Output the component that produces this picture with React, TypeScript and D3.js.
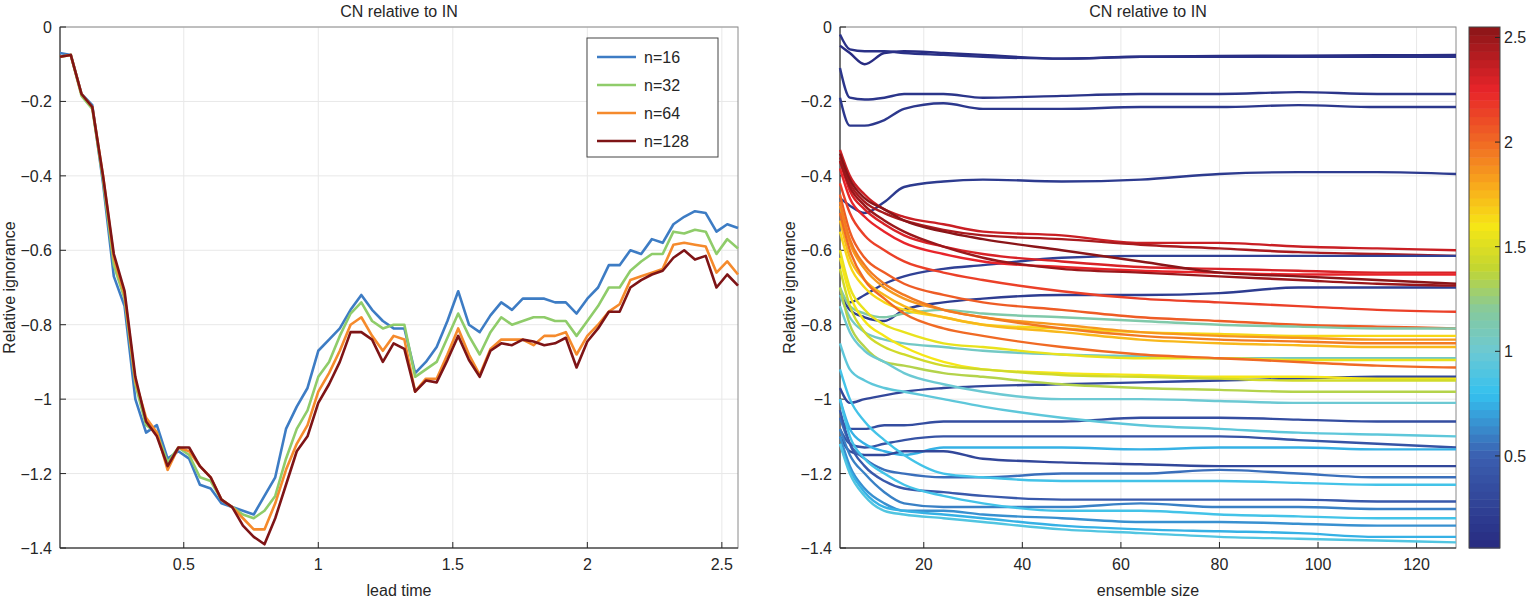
import * as d3 from 'd3';

const leadTime = d3.range(64).map(i => +(0.04 * (i + 1)).toFixed(2));

const n16 = [-0.07,-0.075,-0.18,-0.21,-0.42,-0.67,-0.75,-1.0,-1.09,-1.07,-1.16,-1.14,-1.16,-1.23,-1.24,-1.28,-1.29,-1.3,-1.31,-1.26,-1.21,-1.08,-1.02,-0.97,-0.87,-0.84,-0.81,-0.76,-0.72,-0.76,-0.79,-0.81,
  -0.81,-0.93,-0.9,-0.86,-0.79,-0.71,-0.8,-0.82,-0.775,-0.74,-0.76,-0.73,-0.73,-0.73,-0.74,-0.74,-0.77,-0.73,-0.7,-0.64,-0.64,-0.6,-0.61,-0.57,-0.58,-0.53,-0.51,-0.495,-0.5,-0.55,-0.53,-0.54];
const n32 = [-0.08,-0.075,-0.185,-0.22,-0.41,-0.64,-0.73,-0.96,-1.07,-1.09,-1.17,-1.13,-1.15,-1.21,-1.22,-1.27,-1.29,-1.31,-1.32,-1.3,-1.26,-1.16,-1.08,-1.03,-0.94,-0.9,-0.83,-0.77,-0.74,-0.79,-0.81,-0.8,
  -0.8,-0.94,-0.92,-0.9,-0.835,-0.77,-0.83,-0.88,-0.82,-0.78,-0.8,-0.79,-0.78,-0.78,-0.79,-0.79,-0.83,-0.79,-0.75,-0.7,-0.7,-0.655,-0.63,-0.61,-0.61,-0.55,-0.555,-0.545,-0.55,-0.61,-0.57,-0.595];
const n64 = [-0.08,-0.075,-0.18,-0.215,-0.4,-0.62,-0.72,-0.95,-1.05,-1.09,-1.19,-1.13,-1.14,-1.18,-1.21,-1.27,-1.29,-1.32,-1.35,-1.35,-1.28,-1.19,-1.12,-1.07,-0.98,-0.93,-0.87,-0.8,-0.78,-0.83,-0.87,-0.83,
  -0.84,-0.98,-0.945,-0.945,-0.88,-0.81,-0.88,-0.935,-0.865,-0.84,-0.84,-0.84,-0.855,-0.83,-0.83,-0.82,-0.88,-0.83,-0.8,-0.765,-0.745,-0.68,-0.67,-0.66,-0.65,-0.585,-0.58,-0.585,-0.59,-0.66,-0.63,-0.665];
const n128 = [-0.08,-0.075,-0.18,-0.215,-0.4,-0.61,-0.71,-0.94,-1.06,-1.1,-1.18,-1.13,-1.13,-1.18,-1.21,-1.27,-1.29,-1.34,-1.37,-1.39,-1.32,-1.23,-1.14,-1.1,-1.01,-0.96,-0.9,-0.82,-0.82,-0.84,-0.9,-0.85,
  -0.865,-0.98,-0.95,-0.955,-0.895,-0.83,-0.895,-0.94,-0.87,-0.85,-0.855,-0.84,-0.845,-0.855,-0.85,-0.835,-0.915,-0.845,-0.81,-0.765,-0.765,-0.7,-0.68,-0.665,-0.655,-0.62,-0.6,-0.625,-0.615,-0.7,-0.665,-0.695];

const seriesNames = ['n=16', 'n=32', 'n=64', 'n=128'];
const seriesColors = ['#3d7cc4', '#8fcc6a', '#f58a2c', '#7e1416'];
const seriesValues = [n16, n32, n64, n128];

// ensemble sizes at which each curve was read
const ensembleSizes = [3, 5, 8, 12, 16, 24, 32, 48, 64, 80, 96, 112, 128];
const curveLevels = [0.08,0.12,0.15,0.18,0.2,2.35,2.45,0.25,2.3,2.25,2.55,0.22,2.5,2.15,2.05,1.15,1.65,1.85,1.95,1.75,1.05,1.55,2.0,0.3,1.6,1.45,1.35,1.0,0.35,0.95,0.4,0.75,0.3,0.55,0.85,0.45,0.6,0.85,0.65,0.75,0.9];
const curveValues = [
  [-0.05,-0.07,-0.1,-0.07,-0.065,-0.07,-0.075,-0.085,-0.08,-0.078,-0.077,-0.076,-0.075],
  [-0.02,-0.06,-0.065,-0.065,-0.07,-0.075,-0.08,-0.085,-0.08,-0.08,-0.08,-0.08,-0.08],
  [-0.11,-0.19,-0.195,-0.19,-0.18,-0.18,-0.19,-0.185,-0.18,-0.18,-0.175,-0.18,-0.18],
  [-0.19,-0.265,-0.265,-0.25,-0.22,-0.205,-0.22,-0.22,-0.215,-0.215,-0.21,-0.215,-0.215],
  [-0.46,-0.48,-0.5,-0.47,-0.43,-0.415,-0.41,-0.415,-0.41,-0.395,-0.39,-0.39,-0.395],
  [-0.33,-0.4,-0.45,-0.49,-0.51,-0.53,-0.55,-0.56,-0.58,-0.58,-0.59,-0.595,-0.6],
  [-0.35,-0.42,-0.47,-0.5,-0.52,-0.545,-0.56,-0.57,-0.585,-0.595,-0.605,-0.61,-0.615],
  [-0.72,-0.74,-0.72,-0.69,-0.67,-0.65,-0.64,-0.62,-0.615,-0.615,-0.615,-0.615,-0.615],
  [-0.36,-0.44,-0.49,-0.53,-0.56,-0.59,-0.61,-0.63,-0.645,-0.65,-0.655,-0.66,-0.66],
  [-0.38,-0.46,-0.51,-0.55,-0.58,-0.61,-0.63,-0.645,-0.655,-0.66,-0.665,-0.665,-0.665],
  [-0.34,-0.41,-0.46,-0.49,-0.52,-0.55,-0.57,-0.6,-0.63,-0.66,-0.67,-0.68,-0.69],
  [-0.72,-0.76,-0.78,-0.79,-0.76,-0.74,-0.73,-0.72,-0.72,-0.715,-0.7,-0.7,-0.7],
  [-0.36,-0.43,-0.48,-0.52,-0.55,-0.59,-0.62,-0.65,-0.66,-0.67,-0.68,-0.69,-0.695],
  [-0.42,-0.5,-0.56,-0.6,-0.63,-0.66,-0.68,-0.71,-0.73,-0.74,-0.75,-0.76,-0.765],
  [-0.45,-0.55,-0.62,-0.66,-0.69,-0.72,-0.74,-0.76,-0.78,-0.79,-0.8,-0.805,-0.81],
  [-0.7,-0.75,-0.77,-0.78,-0.77,-0.76,-0.77,-0.78,-0.79,-0.8,-0.805,-0.81,-0.81],
  [-0.55,-0.64,-0.7,-0.74,-0.76,-0.78,-0.8,-0.81,-0.82,-0.825,-0.83,-0.83,-0.83],
  [-0.48,-0.58,-0.65,-0.7,-0.73,-0.76,-0.78,-0.8,-0.82,-0.83,-0.835,-0.84,-0.84],
  [-0.47,-0.57,-0.64,-0.69,-0.72,-0.76,-0.78,-0.81,-0.83,-0.84,-0.845,-0.85,-0.85],
  [-0.52,-0.62,-0.68,-0.72,-0.75,-0.78,-0.8,-0.82,-0.84,-0.85,-0.855,-0.86,-0.86],
  [-0.72,-0.78,-0.82,-0.84,-0.85,-0.86,-0.87,-0.88,-0.885,-0.89,-0.89,-0.89,-0.89],
  [-0.6,-0.7,-0.76,-0.8,-0.82,-0.85,-0.86,-0.88,-0.89,-0.89,-0.895,-0.895,-0.895],
  [-0.5,-0.6,-0.68,-0.73,-0.77,-0.81,-0.83,-0.86,-0.88,-0.89,-0.9,-0.91,-0.915],
  [-0.97,-1.01,-1.0,-0.99,-0.98,-0.97,-0.965,-0.96,-0.955,-0.95,-0.945,-0.94,-0.94],
  [-0.62,-0.72,-0.79,-0.83,-0.86,-0.9,-0.92,-0.93,-0.935,-0.94,-0.94,-0.945,-0.945],
  [-0.65,-0.75,-0.82,-0.86,-0.88,-0.91,-0.92,-0.935,-0.94,-0.945,-0.95,-0.95,-0.95],
  [-0.7,-0.8,-0.86,-0.9,-0.91,-0.93,-0.94,-0.96,-0.97,-0.975,-0.98,-0.98,-0.98],
  [-0.75,-0.82,-0.87,-0.9,-0.93,-0.96,-0.98,-1.0,-1.0,-1.005,-1.01,-1.01,-1.01],
  [-1.05,-1.08,-1.08,-1.07,-1.07,-1.06,-1.06,-1.06,-1.05,-1.05,-1.055,-1.06,-1.06],
  [-0.85,-0.92,-0.95,-0.97,-0.98,-1.0,-1.02,-1.05,-1.07,-1.08,-1.09,-1.095,-1.1],
  [-1.08,-1.12,-1.13,-1.12,-1.11,-1.1,-1.1,-1.1,-1.1,-1.1,-1.11,-1.12,-1.13],
  [-1.0,-1.08,-1.12,-1.14,-1.15,-1.13,-1.13,-1.13,-1.135,-1.13,-1.13,-1.135,-1.135],
  [-1.1,-1.14,-1.15,-1.15,-1.14,-1.14,-1.16,-1.17,-1.175,-1.18,-1.18,-1.18,-1.18],
  [-1.05,-1.12,-1.16,-1.19,-1.2,-1.21,-1.21,-1.2,-1.2,-1.19,-1.2,-1.21,-1.21],
  [-0.92,-1.0,-1.06,-1.11,-1.15,-1.2,-1.21,-1.22,-1.22,-1.22,-1.225,-1.23,-1.23],
  [-1.03,-1.12,-1.18,-1.22,-1.24,-1.25,-1.26,-1.27,-1.27,-1.27,-1.27,-1.275,-1.275],
  [-1.08,-1.15,-1.2,-1.25,-1.28,-1.29,-1.29,-1.29,-1.28,-1.29,-1.29,-1.295,-1.295],
  [-1.0,-1.1,-1.16,-1.2,-1.23,-1.26,-1.28,-1.3,-1.3,-1.31,-1.315,-1.32,-1.32],
  [-1.1,-1.18,-1.24,-1.28,-1.3,-1.3,-1.31,-1.32,-1.33,-1.33,-1.335,-1.34,-1.34],
  [-1.12,-1.19,-1.25,-1.29,-1.3,-1.31,-1.32,-1.34,-1.35,-1.355,-1.36,-1.37,-1.37],
  [-1.12,-1.2,-1.26,-1.3,-1.31,-1.32,-1.33,-1.35,-1.36,-1.37,-1.375,-1.38,-1.385],
];

const yTicks = [0, -0.2, -0.4, -0.6, -0.8, -1, -1.2, -1.4];
const leadTicks = [0.5, 1, 1.5, 2, 2.5];
const sizeTicks = [20, 40, 60, 80, 100, 120];
const cbarTicks = [0.5, 1, 1.5, 2, 2.5];

const FONT = '"Liberation Sans", Arial, sans-serif';
const TOP = 27, BOTTOM = 548;

const cmap = d3.scaleLinear<string>()
  .domain([0.06, 0.5, 0.8, 1.0, 1.2, 1.4, 1.6, 1.8, 2.0, 2.25, 2.55])
  .range(['#272a80', '#3b5fb0', '#35c1ef', '#6cc9d3', '#86c99c', '#c3d630', '#f6e616', '#f8a81c', '#f06a24', '#e8242a', '#8a1518'])
  .interpolate(d3.interpolateRgb);

function fmt(v: number) {
  return v === 0 ? '0' : String(v).replace('-', '\u2212');
}

function Frame({ x0, x1, ticksX, sx, sy, xlabel, title }: any) {
  return (
    <g fontFamily={FONT} fontSize={16} fill="#262626">
      {yTicks.map(t => <line key={'gy' + t} x1={x0} x2={x1} y1={sy(t)} y2={sy(t)} stroke="#e8e8e8" />)}
      {ticksX.map((t: number) => <line key={'gx' + t} x1={sx(t)} x2={sx(t)} y1={TOP} y2={BOTTOM} stroke="#e8e8e8" />)}
      <rect x={x0} y={TOP} width={x1 - x0} height={BOTTOM - TOP} fill="none" stroke="#8a8a8a" />
      <line x1={x0} x2={x0} y1={TOP} y2={BOTTOM} stroke="#262626" />
      <line x1={x0} x2={x1} y1={BOTTOM} y2={BOTTOM} stroke="#262626" />
      {yTicks.map(t => (
        <g key={'ty' + t}>
          <line x1={x0} x2={x0 + 6} y1={sy(t)} y2={sy(t)} stroke="#262626" />
          <text x={x0 - 8} y={sy(t) + 6} textAnchor="end">{fmt(t)}</text>
        </g>
      ))}
      {ticksX.map((t: number) => (
        <g key={'tx' + t}>
          <line x1={sx(t)} x2={sx(t)} y1={BOTTOM} y2={BOTTOM - 6} stroke="#262626" />
          <text x={sx(t)} y={BOTTOM + 22} textAnchor="middle">{fmt(t)}</text>
        </g>
      ))}
      <text x={(x0 + x1) / 2} y={596} textAnchor="middle">{xlabel}</text>
      <text x={(x0 + x1) / 2} y={17} textAnchor="middle" fontSize={16}>{title}</text>
      <text transform={`translate(${x0 - 45},${(TOP + BOTTOM) / 2}) rotate(-90)`} textAnchor="middle">Relative ignorance</text>
    </g>
  );
}

export default function App() {
  const ly = d3.scaleLinear().domain([-1.4, 0]).range([BOTTOM, TOP]);
  const lx = d3.scaleLinear().domain([0.04, 2.56]).range([60, 738]);
  const rx = d3.scaleLinear().domain([3, 128]).range([840, 1456]);
  const cb = d3.scaleLinear().domain([0.06, 2.55]).range([BOTTOM, TOP]);

  const leadLine = d3.line<number>().x((_, i) => lx(leadTime[i])).y(d => ly(d));
  const sizeLine = d3.line<number>().x((_, i) => rx(ensembleSizes[i])).y(d => ly(d)).curve(d3.curveMonotoneX);

  const bands = d3.range(64).map(i => 0.06 + (i * (2.55 - 0.06)) / 64);
  const bandH = (BOTTOM - TOP) / 64;

  return (
    <svg width={1533} height={598} style={{ position: 'absolute', left: 0, top: 0, background: '#fff' }}>
      <Frame x0={60} x1={738} ticksX={leadTicks} sx={lx} sy={ly} xlabel="lead time" title="CN relative to IN" />
      {seriesValues.map((vals, k) => (
        <path key={k} d={leadLine(vals) || ''} fill="none" stroke={seriesColors[k]} strokeWidth={2.6} strokeLinejoin="round" />
      ))}
      <g fontFamily={FONT} fontSize={16} fill="#262626">
        <rect x={587} y={38} width={131} height={119} fill="#fff" stroke="#444" />
        {seriesNames.map((n, k) => (
          <g key={n}>
            <line x1={597} x2={636} y1={57 + k * 28} y2={57 + k * 28} stroke={seriesColors[k]} strokeWidth={2.6} />
            <text x={644} y={63 + k * 28}>{n}</text>
          </g>
        ))}
      </g>

      <Frame x0={840} x1={1456} ticksX={sizeTicks} sx={rx} sy={ly} xlabel="ensemble size" title="CN relative to IN" />
      {curveValues.map((vals, k) => (
        <path key={k} d={sizeLine(vals) || ''} fill="none" stroke={cmap(curveLevels[k])} strokeWidth={2.4} strokeLinejoin="round" />
      ))}

      <g fontFamily={FONT} fontSize={16} fill="#262626">
        {bands.map((b, i) => (
          <rect key={i} x={1469} y={BOTTOM - (i + 1) * bandH} width={31} height={bandH + 0.5} fill={cmap(b + 0.02)} />
        ))}
        <rect x={1469} y={TOP} width={31} height={BOTTOM - TOP} fill="none" stroke="#444" />
        {cbarTicks.map(t => (
          <g key={t}>
            <line x1={1495} x2={1500} y1={cb(t)} y2={cb(t)} stroke="#262626" />
            <text x={1504} y={cb(t) + 6}>{t}</text>
          </g>
        ))}
      </g>
    </svg>
  );
}
